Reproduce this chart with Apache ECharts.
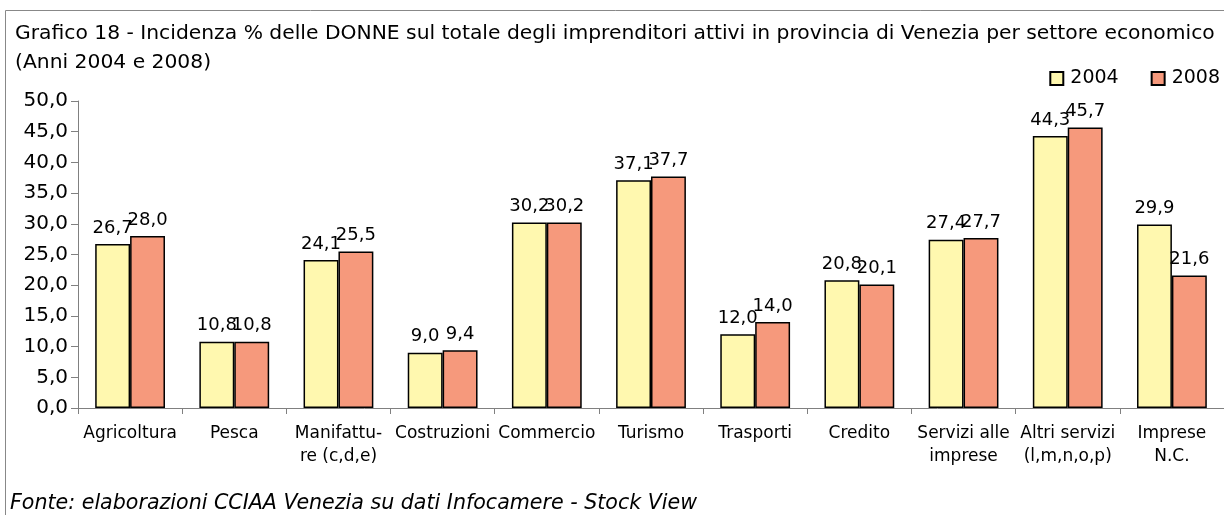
<!DOCTYPE html>
<html>
<head>
<meta charset="utf-8">
<script src="https://cdn.jsdelivr.net/npm/echarts@6/dist/echarts.min.js"></script>
<style>
  html, body { margin: 0; padding: 0; background: #fff; }
  #chart { width: 1224px; height: 515px; }
</style>
</head>
<body>
<div id="chart"></div>
<script>
// categorie e valori (% donne sul totale imprenditori)
var categories = ['Agricoltura', 'Pesca', 'Manifattu-\nre (c,d,e)', 'Costruzioni', 'Commercio', 'Turismo',
  'Trasporti', 'Credito', 'Servizi alle\nimprese', 'Altri servizi\n(l,m,n,o,p)', 'Imprese\nN.C.'];
var values2004 = [26.7, 10.8, 24.1, 9.0, 30.2, 37.1, 12.0, 20.8, 27.4, 44.3, 29.9];
var values2008 = [28.0, 10.8, 25.5, 9.4, 30.2, 37.7, 14.0, 20.1, 27.7, 45.7, 21.6];
var years = ['2004', '2008'];

var font = 'Tahoma, "DejaVu Sans", sans-serif';
function virgola(v) { return Number(v).toFixed(1).replace('.', ','); }

var myChart = echarts.init(document.getElementById('chart'));
var option = {
  animation: false,
  textStyle: { fontFamily: font, color: '#000' },
  title: {
    text: 'Grafico 18 - Incidenza % delle DONNE sul totale degli imprenditori attivi in provincia di Venezia per settore economico\n(Anni 2004 e 2008)',
    left: 10, top: 14,
    textStyle: { fontFamily: font, fontSize: 20.3, fontWeight: 'normal', color: '#000', lineHeight: 29 }
  },
  legend: {
    data: years,
    right: -1, top: 64,
    icon: 'rect',
    itemWidth: 13, itemHeight: 13, itemGap: 32,
    textStyle: { fontFamily: font, fontSize: 19, color: '#000', padding: [0, 0, 0, 2] }
  },
  graphic: [
    { type: 'rect', shape: { x: 5.5, y: 10.5, width: 1240, height: 540 },
      style: { fill: 'none', stroke: '#888', lineWidth: 1 }, silent: true },
    { type: 'text', left: 10, top: 493,
      style: { text: 'Fonte: elaborazioni CCIAA Venezia su dati Infocamere - Stock View',
        font: 'italic 20.6px ' + font, fill: '#000' } }
  ],
  grid: { left: 78, top: 101, width: 1150, height: 307 },
  xAxis: {
    type: 'category',
    data: categories,
    axisLine: { lineStyle: { color: '#808080', width: 1 } },
    axisTick: { show: true, lineStyle: { color: '#808080' }, length: 6 },
    axisLabel: { fontFamily: font, fontSize: 17, color: '#000', margin: 14, lineHeight: 23, interval: 0 }
  },
  yAxis: {
    type: 'value',
    min: 0, max: 50, interval: 5,
    axisLine: { show: true, lineStyle: { color: '#808080' } },
    axisTick: { show: true, lineStyle: { color: '#808080' }, length: 7 },
    splitLine: { show: false },
    axisLabel: { fontFamily: font, fontSize: 20, color: '#000', margin: 10, formatter: virgola }
  },
  series: [
    {
      name: years[0], type: 'bar', data: values2004,
      barGap: '0%', barCategoryGap: '33%',
      itemStyle: { color: '#FFF8AF', borderColor: '#000', borderWidth: 1.5 },
      label: { show: true, position: 'top', distance: 7, fontFamily: font, fontSize: 18, color: '#000', formatter: function (p) { return virgola(p.value); } }
    },
    {
      name: years[1], type: 'bar', data: values2008,
      itemStyle: { color: '#F6997C', borderColor: '#000', borderWidth: 1.5 },
      label: { show: true, position: 'top', distance: 7, fontFamily: font, fontSize: 18, color: '#000', formatter: function (p) { return virgola(p.value); } }
    }
  ]
};
myChart.setOption(option);
</script>
</body>
</html>
